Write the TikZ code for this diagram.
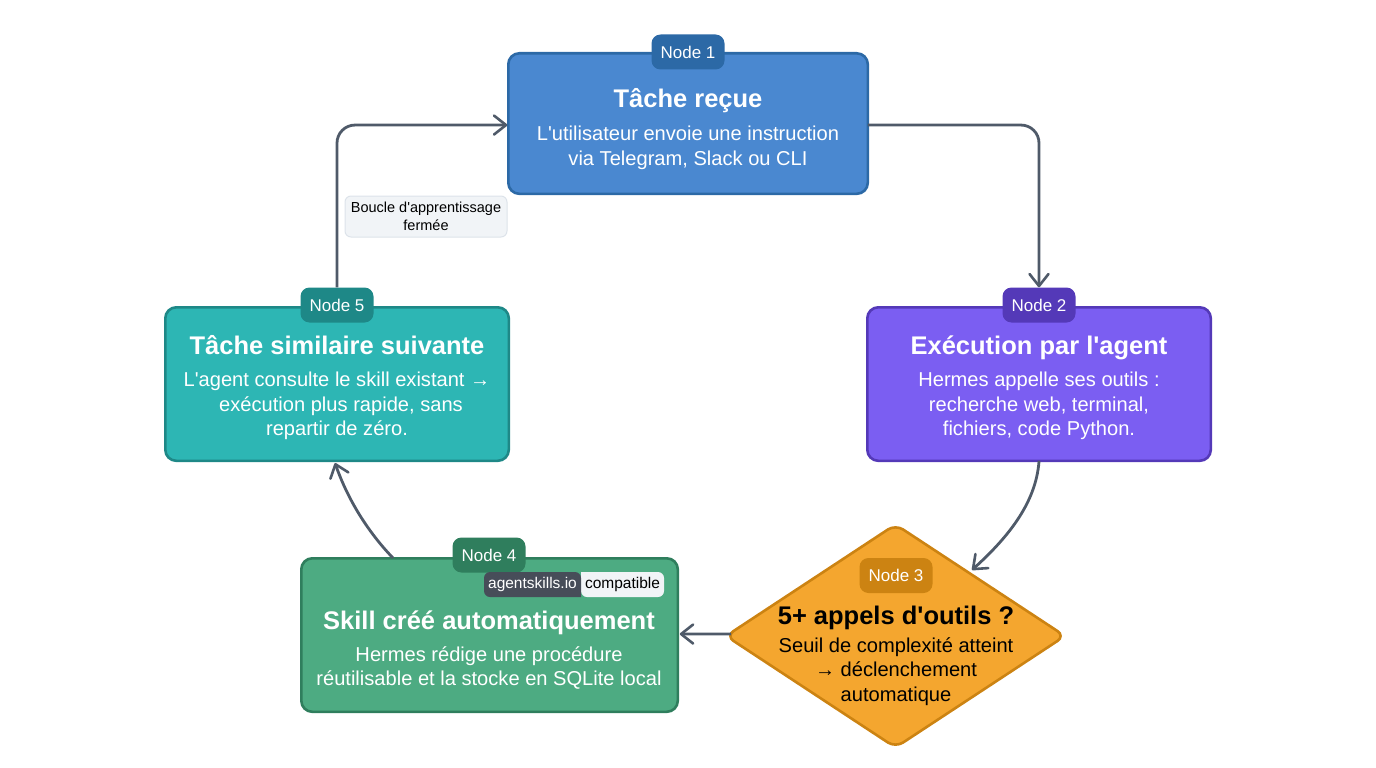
\documentclass[tikz,border=0pt]{standalone}
\usepackage{fontspec}
\newfontfamily\plainsans{Liberation Sans}
\usetikzlibrary{shapes.geometric,arrows.meta,calc}
\definecolor{cA}{HTML}{4A88D0}\definecolor{cAs}{HTML}{2C69A6}
\definecolor{cB}{HTML}{7B5EF2}\definecolor{cBs}{HTML}{5439B8}
\definecolor{cC}{HTML}{F4A62F}\definecolor{cCs}{HTML}{CC8312}
\definecolor{cD}{HTML}{4DAB82}\definecolor{cDs}{HTML}{2F7E5D}
\definecolor{cE}{HTML}{2DB6B4}\definecolor{cEs}{HTML}{1E8887}
\definecolor{link}{HTML}{4F5A69}
\definecolor{pill}{HTML}{474D59}
\definecolor{pale}{HTML}{F1F4F7}
\definecolor{paleline}{HTML}{DDE3EA}
\tikzset{
  x=1pt,y=-1pt,
  card/.style={draw=#1,line width=2.6pt,rounded corners=11pt,inner sep=0pt,outer sep=0pt,anchor=north west},
  badge/.style={fill=#1,rounded corners=9pt,minimum width=73pt,minimum height=35pt,inner sep=0pt,text=white,font=\plainsans\fontsize{17}{18}\selectfont},
  ttl/.style={inner sep=0pt,anchor=base,text=white,font=\plainsans\fontsize{25.5}{30}\selectfont\bfseries},
  body/.style={inner sep=0pt,text=white,align=center,font=\plainsans\fontsize{20.1}{24.5}\selectfont},
  tag/.style={inner sep=0pt,font=\plainsans\fontsize{15.5}{16}\selectfont},
  flow/.style={draw=link,line width=2.8pt,-{Straight Barb[round,length=12pt,width=19pt,line width=2.6pt]}},
}
\begin{document}
\begin{tikzpicture}
\useasboundingbox (0,0) rectangle (1376,768);
\node[card=cAs,fill=cA,minimum width=359.5pt,minimum height=140.5pt] (n1) at (508.3,53.3) {};
\node[card=cBs,fill=cB,minimum width=343.5pt,minimum height=153.5pt] (n2) at (867.3,307.3) {};
\node[card=cEs,fill=cE,minimum width=343.5pt,minimum height=153.5pt] (n5) at (165.3,307.3) {};
\node[card=cDs,fill=cD,minimum width=376.5pt,minimum height=153.5pt] (n4) at (301.3,558.3) {};
\node[diamond,draw=cCs,fill=cC,line width=2.6pt,rounded corners=9pt,inner sep=0pt,outer sep=0pt,aspect=1.5,minimum width=339pt,minimum height=223pt] (n3) at (895.5,636) {};
\node[badge=cAs] (b1) at (688,52) {Node 1};
\node[badge=cBs] (b2) at (1039,305) {Node 2};
\node[badge=cEs] (b5) at (337,305) {Node 5};
\node[badge=cDs] (b4) at (489,555) {Node 4};
\node[badge=cCs] (b3) at (896,575.5) {Node 3};
\node[ttl] (t1) at (688,107) {Tâche reçue};
\node[body] (d1) at (688,148) {L'utilisateur envoie une instruction\\via Telegram, Slack ou CLI};
\node[ttl] (t2) at (1039,354) {Exécution par l'agent};
\node[body] (d2) at (1039,406) {Hermes appelle ses outils :\\recherche web, terminal,\\fichiers, code Python.};
\node[ttl] (t5) at (337,354) {Tâche similaire suivante};
\node[body] (d5) at (337,406) {L'agent consulte le skill existant →\\\hspace*{8pt}exécution plus rapide, sans\\repartir de zéro.};
\node[ttl] (t4) at (489,629) {Skill créé automatiquement};
\node[body] (d4) at (489,668) {Hermes rédige une procédure\\réutilisable et la stocke en SQLite local};
\node[ttl,text=black] (t3) at (896,624) {5+ appels d'outils ?};
\node[body,text=black] (d3) at (896,671.5) {Seuil de complexité atteint\\→ déclenchement\\automatique};
\fill[pale,rounded corners=6pt] (581,572) -- (664,572) -- (664,597) -- (581,597) [sharp corners] -- cycle;
\fill[pill,rounded corners=6pt] (581,597) -- (484,597) -- (484,572) -- (581,572) [sharp corners] -- cycle;
\node[tag] (p2) at (622.5,584.5) {compatible};
\node[tag,text=white] (p1) at (532.5,584.5) {agentskills.io};
\node[draw=paleline,fill=pale,line width=1pt,rounded corners=6pt,minimum width=162pt,minimum height=41pt,inner sep=0pt,align=center,font=\plainsans\fontsize{14.5}{18}\selectfont] (lab) at (426,216.5) {Boucle d'apprentissage\\fermée};
\draw[flow,rounded corners=18pt] ($(n1.east)+(0,1.5)$) -| (b2.north);
\draw[flow,rounded corners=18pt] (b5.north) |- ($(n1.west)+(-1,1.5)$);
\draw[flow] (n2.south) .. controls (1036,505) and (1005,540) .. (972,570);
\draw[flow] ($(n3.west)+(5,-2)$) -- ($(n4.east)+(2,-1)$);
\draw[flow] (393,558) .. controls (368,532) and (348,500) .. (335,463);
\end{tikzpicture}
\end{document}
